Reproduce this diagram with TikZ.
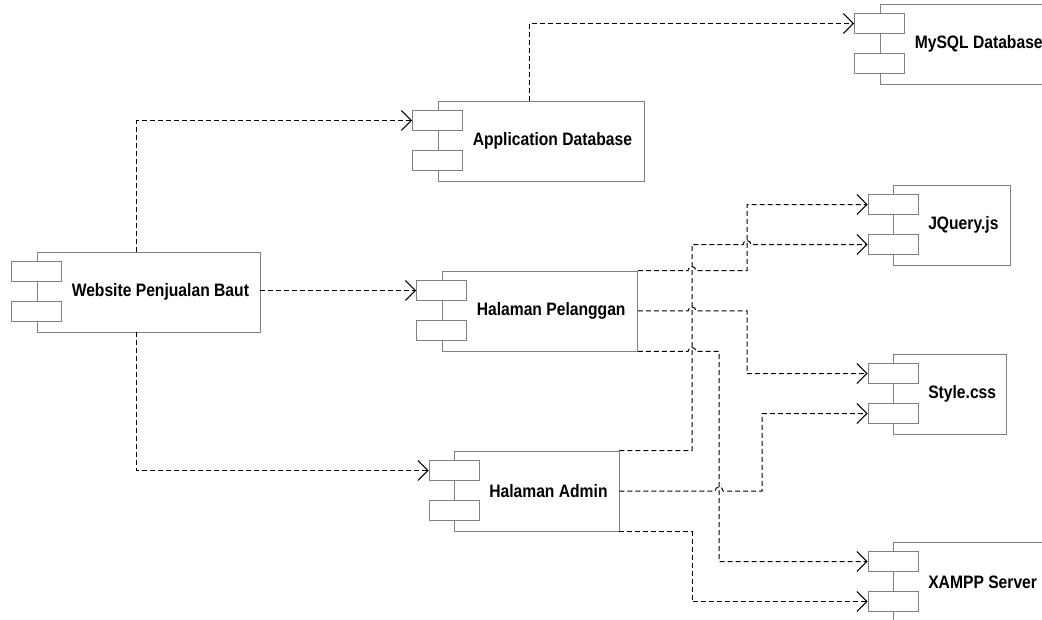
\documentclass[tikz,border=0pt]{standalone}
\usepackage{fontspec}
\setmainfont{Liberation Sans}
\newfontfamily\compfont{Liberation Sans}[FakeStretch=0.87]
\usetikzlibrary{arrows.meta,positioning,calc}

\begin{document}
\begin{tikzpicture}[
  x=1pt, y=-1pt,
  every node/.style={font=\compfont\fontsize{18}{21}\selectfont\bfseries},
  comp/.style={draw=gray, line width=0.9pt, minimum height=80pt, inner sep=0pt},
  tab/.style={draw=gray, line width=0.9pt, fill=white, minimum width=50pt, minimum height=20pt, inner sep=0pt},
  comptext/.style={anchor=west, inner sep=0pt, xshift=35pt},
  dep/.style={draw, line width=1pt, dash pattern=on 5pt off 3pt, -{Straight Barb[length=10pt,width=20pt]}}
]
\useasboundingbox (0,0) rectangle (1042,620);

% komponen
\node[comp, minimum width=223pt, label={[comptext]west:Website Penjualan Baut}] (web) at (148.5,292) {};
\node[comp, minimum width=206pt, label={[comptext]west:Application Database}] (appdb) at (541,141) {};
\node[comp, minimum width=180pt, label={[comptext]west:MySQL Database}] (mysql) at (970,44) {};
\node[comp, minimum width=195.5pt, label={[comptext]west:Halaman Pelanggan}] (pel) at (539.75,311) {};
\node[comp, minimum width=164.5pt, label={[comptext]west:Halaman Admin}] (admin) at (536.75,491) {};
\node[comp, minimum width=116.5pt, label={[comptext]west:JQuery.js}] (jq) at (951.75,225) {};
\node[comp, minimum width=112.5pt, label={[comptext]west:Style.css}] (css) at (949.75,394) {};
\node[comp, minimum width=180pt, label={[comptext]west:XAMPP Server}] (xampp) at (983.5,582) {};

% tab kecil di sisi kiri
\foreach \c in {web,appdb,mysql,pel,admin,jq,css,xampp} {
  \node[tab] (\c-a) at ([yshift=-20pt]\c.north west) {};
  \node[tab] (\c-b) at ([yshift=-60pt]\c.north west) {};
}

% jalur vertikal
\coordinate (k1) at (692,0);
\coordinate (k2) at (719,0);
\coordinate (k3) at (747,0);
\coordinate (k4) at (762,0);

\draw[dep] ([xshift=-12pt]web.north) |- (appdb-a.west);
\draw[dep] (web.east |- pel-a.west) -- (pel-a.west);
\draw[dep] ([xshift=-12pt]web.south) |- (admin-a.west);
\draw[dep] ([xshift=-12pt]appdb.north) |- (mysql-a.west);

\draw[dep] (pel.north east) -- ($(pel.north east -| k1)-(4,0)$) arc[start angle=180,end angle=0,radius=4pt] -- (pel.north east -| k3) |- (jq-a.west);
\draw[dep] (pel.east) -- ($(pel.east -| k1)-(4,0)$) arc[start angle=180,end angle=0,radius=4pt] -- (pel.east -| k3) |- (css-a.west);
\draw[dep] (pel.south east) -- ($(pel.south east -| k1)-(4,0)$) arc[start angle=180,end angle=0,radius=4pt] -- (pel.south east -| k2) |- (xampp-a.west);

\draw[dep] (admin.north east) -| (k1 |- jq-b.west) -- ($(k3 |- jq-b.west)-(4,0)$) arc[start angle=180,end angle=0,radius=4pt] -- (jq-b.west);
\draw[dep] (admin.east) -- ($(admin.east -| k2)-(4,0)$) arc[start angle=180,end angle=0,radius=4pt] -- (admin.east -| k4) |- (css-b.west);
\draw[dep] (admin.south east) -- (admin.south east -| k1) |- (xampp-b.west);
\end{tikzpicture}
\end{document}
